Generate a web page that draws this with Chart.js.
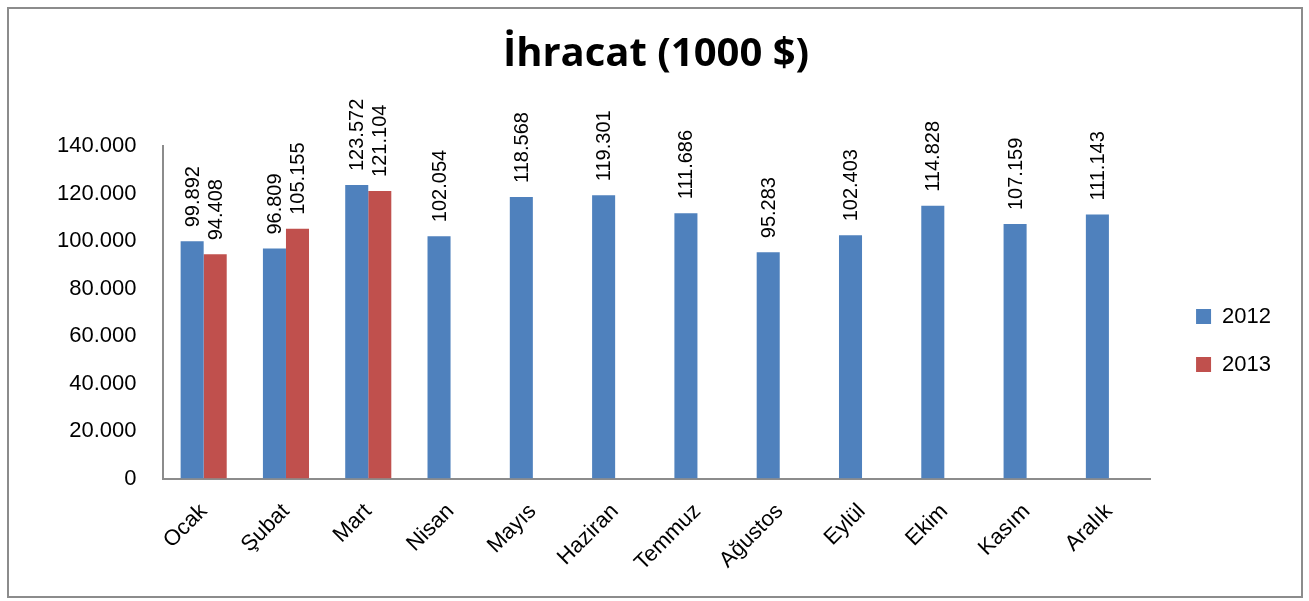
<!DOCTYPE html>
<html lang="tr">
<head>
    <meta charset="UTF-8">
    <title>İhracat (1000 $)</title>
    <script src="https://cdn.jsdelivr.net/npm/chart.js"></script>
    <style>
        body { margin: 0; background: #fff; }
        #wrap { position: absolute; left: 7px; top: 7px; width: 1292px; height: 587px; border: 2px solid #8c8c8c; }
    </style>
</head>
<body>
<div id="wrap"><canvas id="exportChart"></canvas></div>
<script>
    const months = ['Ocak', 'Şubat', 'Mart', 'Nisan', 'Mayıs', 'Haziran', 'Temmuz', 'Ağustos', 'Eylül', 'Ekim', 'Kasım', 'Aralık'];
    const exports2012 = [99892, 96809, 123572, 102054, 118568, 119301, 111686, 95283, 102403, 114828, 107159, 111143];
    const exports2013 = [94408, 105155, 121104, null, null, null, null, null, null, null, null, null];

    const fmt = v => v.toLocaleString('de-DE');
    const FONT = '"Liberation Sans", Arial, sans-serif';

    // rotated value labels above each bar
    const barLabels = {
        id: 'barLabels',
        afterDatasetsDraw(chart) {
            const ctx = chart.ctx;
            ctx.save();
            ctx.font = '20px ' + FONT;
            ctx.fillStyle = '#000';
            ctx.textAlign = 'left';
            ctx.textBaseline = 'middle';
            chart.data.datasets.forEach((ds, i) => {
                chart.getDatasetMeta(i).data.forEach((bar, j) => {
                    const v = ds.data[j];
                    if (v == null) return;
                    ctx.save();
                    ctx.translate(bar.x + 1, bar.y - 14);
                    ctx.rotate(-Math.PI / 2);
                    ctx.fillText(fmt(v), 0, 0);
                    ctx.restore();
                });
            });
            ctx.restore();
        }
    };

    new Chart(document.getElementById('exportChart'), {
        type: 'bar',
        data: {
            labels: months,
            datasets: [
                { label: '2012', data: exports2012, backgroundColor: '#4F81BD' },
                { label: '2013', data: exports2013, backgroundColor: '#C0504D' }
            ]
        },
        options: {
            responsive: true,
            maintainAspectRatio: false,
            animation: false,
            categoryPercentage: 0.56,
            barPercentage: 1,
            layout: { padding: { top: 10, right: 20, bottom: 0, left: 22 } },
            plugins: {
                title: {
                    display: true,
                    text: 'İhracat (1000 $)',
                    color: '#000',
                    font: { family: '"Open Sans", sans-serif', size: 40, weight: 'bold' },
                    padding: { top: 12, bottom: 67 }
                },
                legend: {
                    position: 'right',
                    title: { display: true, text: '', font: { size: 10 }, padding: { top: 54, bottom: 0 } },
                    labels: {
                        color: '#000',
                        boxWidth: 15,
                        boxHeight: 15,
                        padding: 26,
                        font: { family: FONT, size: 22 }
                    }
                },
                tooltip: { enabled: false }
            },
            scales: {
                x: {
                    grid: { display: false, drawTicks: false },
                    border: { color: '#8c8c8c', width: 2 },
                    ticks: {
                        color: '#000',
                        maxRotation: 45,
                        minRotation: 45,
                        padding: 20,
                        font: { family: FONT, size: 22 }
                    }
                },
                y: {
                    min: 0,
                    max: 140000,
                    grid: { display: false, drawTicks: false },
                    border: { color: '#8c8c8c', width: 2 },
                    ticks: {
                        stepSize: 20000,
                        color: '#000',
                        padding: 26,
                        font: { family: FONT, size: 22 },
                        callback: v => fmt(v)
                    }
                },
                // empty axis, only keeps a gap between plot and legend
                gap: {
                    position: 'right',
                    grid: { display: false },
                    border: { display: false },
                    ticks: { display: false },
                    afterFit: s => { s.width = 20; }
                }
            }
        },
        plugins: [barLabels]
    });
</script>
</body>
</html>
